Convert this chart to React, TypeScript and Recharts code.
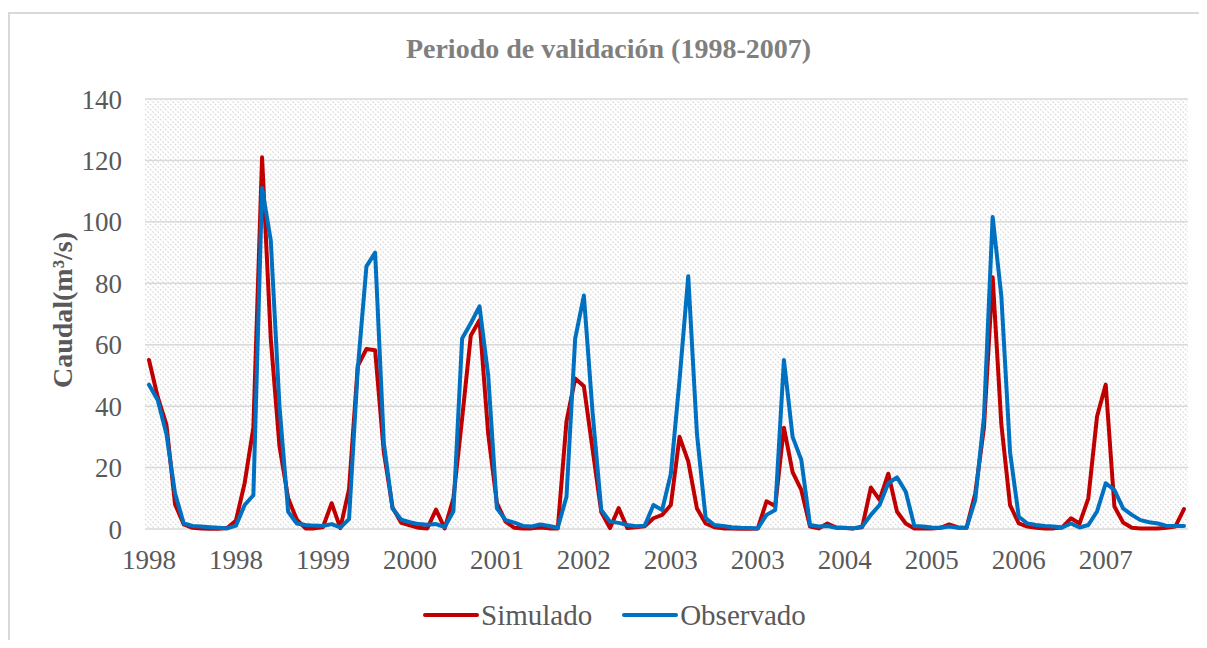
import React from 'react';
import { LineChart, Line, XAxis, YAxis, CartesianGrid, Legend } from 'recharts';

const FONT = '"Liberation Serif", "Times New Roman", serif';

// one category per month, Jan 1998 .. Dec 2007
const years = [
  '1998', '1998', '1998', '1998', '1998', '1998', '1998', '1998', '1998', '1998', '1998', '1998',
  '1999', '1999', '1999', '1999', '1999', '1999', '1999', '1999', '1999', '1999', '1999', '1999',
  '2000', '2000', '2000', '2000', '2000', '2000', '2000', '2000', '2000', '2000', '2000', '2000',
  '2001', '2001', '2001', '2001', '2001', '2001', '2001', '2001', '2001', '2001', '2001', '2001',
  '2002', '2002', '2002', '2002', '2002', '2002', '2002', '2002', '2002', '2002', '2002', '2002',
  '2003', '2003', '2003', '2003', '2003', '2003', '2003', '2003', '2003', '2003', '2003', '2003',
  '2004', '2004', '2004', '2004', '2004', '2004', '2004', '2004', '2004', '2004', '2004', '2004',
  '2005', '2005', '2005', '2005', '2005', '2005', '2005', '2005', '2005', '2005', '2005', '2005',
  '2006', '2006', '2006', '2006', '2006', '2006', '2006', '2006', '2006', '2006', '2006', '2006',
  '2007', '2007', '2007', '2007', '2007', '2007', '2007', '2007', '2007', '2007', '2007', '2007',
];

const simulado = [
  55, 43, 34, 8, 1.5, 0.4, 0.2, 0.1, 0.1, 0.3,
  2.8, 15, 33, 121, 62, 27, 10, 3, 0.2, 0.2,
  0.6, 8.4, 0.3, 13, 53, 58.6, 58.2, 25, 7, 2,
  1.2, 0.4, 0.2, 6.3, 0.2, 10, 36, 63, 68, 31,
  8.4, 2.4, 0.4, 0.2, 0.2, 0.5, 0.2, 0.2, 35, 49,
  46.5, 26, 5.5, 0.3, 6.8, 0.3, 0.6, 0.9, 3.5, 4.6,
  7.8, 30, 22, 6.7, 1.8, 0.6, 0.2, 0.2, 0.1, 0.1,
  0.2, 9, 7.5, 33, 18.5, 12.7, 0.8, 0.2, 1.8, 0.5,
  0.3, 0.2, 0.6, 13.5, 9.5, 18, 5.7, 1.8, 0.2, 0.2,
  0.2, 0.4, 1.5, 0.5, 0.4, 11.6, 33, 82, 34, 7.8,
  1.8, 0.8, 0.4, 0.2, 0.2, 0.5, 3.5, 1.8, 10, 36.6,
  47, 7.3, 2.1, 0.4, 0.2, 0.2, 0.2, 0.4, 0.8, 6.5,
];

const observado = [
  47, 42, 31, 11.5, 1.8, 1.0, 0.8, 0.6, 0.4, 0.2,
  1.1, 7.8, 11, 111, 94, 40, 5.6, 1.8, 1.3, 1.1,
  1.0, 1.6, 0.5, 3.2, 52, 85.5, 90, 28, 6.7, 3,
  2.2, 1.6, 1.4, 1.6, 0.6, 5.8, 62, 67, 72.5, 50,
  6.7, 2.9, 2.1, 1.0, 0.8, 1.5, 1.0, 0.4, 10.5, 62,
  76, 38, 6.2, 2.4, 2.0, 1.3, 0.9, 1.1, 7.8, 6.2,
  18, 48.6, 82.3, 31, 3.6, 1.3, 1.0, 0.6, 0.4, 0.3,
  0.2, 4.6, 6.2, 55, 30, 22.5, 1.3, 0.8, 1.0, 0.4,
  0.4, 0.2, 0.8, 4.6, 7.8, 14.9, 16.8, 12.2, 1.0, 0.8,
  0.5, 0.4, 0.8, 0.4, 0.4, 9.5, 36.6, 101.6, 75.8, 25,
  4, 1.8, 1.3, 1.0, 0.8, 0.5, 1.8, 0.5, 1.3, 5.7,
  14.9, 12.7, 6.7, 4.6, 2.9, 2.2, 1.8, 1.0, 1.0, 1.0,
];

const yTicks = [0, 20, 40, 60, 80, 100, 120, 140];

const series = [
  { key: 'simulado', name: 'Simulado', color: '#c00000' },
  { key: 'observado', name: 'Observado', color: '#0070c0' },
];

const data = years.map((year, i) => ({
  year,
  simulado: simulado[i],
  observado: observado[i],
}));

function LegendContent() {
  return (
    <div style={{ height: 36, display: 'flex', alignItems: 'center', paddingLeft: 413 }}>
      {series.map((s, i) => (
        <div key={s.key} style={{ display: 'flex', alignItems: 'center', marginLeft: i ? 30 : 0 }}>
          <svg width={56} height={8}>
            <line x1={2} y1={4} x2={54} y2={4} stroke={s.color} strokeWidth={4} strokeLinecap="round" />
          </svg>
          <span style={{ marginLeft: 2, fontSize: 29, color: '#595959', fontFamily: FONT }}>{s.name}</span>
        </div>
      ))}
    </div>
  );
}

function YLabel({ viewBox }: any) {
  const x = viewBox.x + 52;
  const y = viewBox.y + viewBox.height / 2 - 4;
  return (
    <text
      x={x}
      y={y}
      transform={`rotate(-90, ${x}, ${y})`}
      textAnchor="middle"
      dominantBaseline="central"
      fill="#595959"
      fontSize={28}
      fontWeight="bold"
      fontFamily={FONT}
    >
      Caudal(m³/s)
    </text>
  );
}

export default function App() {
  return (
    <div style={{ paddingTop: 4 }}>
      <svg width={0} height={0} style={{ position: 'absolute' }}>
        <defs>
          <pattern id="hatch" width={5} height={5} patternUnits="userSpaceOnUse">
            <rect width={5} height={5} fill="#ffffff" />
            <path d="M0,0 L5,5 M-1,4 L1,6 M4,-1 L6,1" stroke="#dadada" strokeWidth={1.1} strokeDasharray="2 1.5" />
          </pattern>
        </defs>
      </svg>
      <div
        style={{
          position: 'relative',
          width: 1199,
          height: 628,
          boxSizing: 'border-box',
          borderLeft: '2px solid #d9d9d9',
          borderTop: '2px solid #d9d9d9',
          background: '#fff',
        }}
      >
        <div
          style={{
            position: 'absolute',
            top: 21,
            left: 0,
            width: 1197,
            textAlign: 'center',
            fontFamily: FONT,
            fontWeight: 'bold',
            fontSize: 28,
            lineHeight: '28px',
            color: '#7f7f7f',
          }}
        >
          Periodo de validación (1998-2007)
        </div>
        <LineChart width={1197} height={626} data={data} margin={{ top: 85, right: 19, bottom: 7, left: 0 }}>
          <CartesianGrid vertical={false} stroke="#d9d9d9" strokeWidth={1.5} fill="url(#hatch)" fillOpacity={1} />
          <XAxis
            dataKey="year"
            interval={9}
            height={68}
            padding={{ left: 4, right: 4 }}
            axisLine={false}
            tickLine={false}
            tickMargin={15}
            tick={{ fill: '#595959', fontSize: 27, fontFamily: FONT }}
          />
          <YAxis
            width={135}
            domain={[0, 140]}
            ticks={yTicks}
            axisLine={false}
            tickLine={false}
            tickMargin={17}
            tick={{ fill: '#595959', fontSize: 27, fontFamily: FONT }}
            label={<YLabel />}
          />
          <Legend verticalAlign="bottom" content={<LegendContent />} />
          {series.map((s) => (
            <Line
              key={s.key}
              type="linear"
              dataKey={s.key}
              name={s.name}
              stroke={s.color}
              strokeWidth={4}
              strokeLinejoin="round"
              strokeLinecap="round"
              dot={false}
              activeDot={false}
              isAnimationActive={false}
            />
          ))}
        </LineChart>
      </div>
    </div>
  );
}
